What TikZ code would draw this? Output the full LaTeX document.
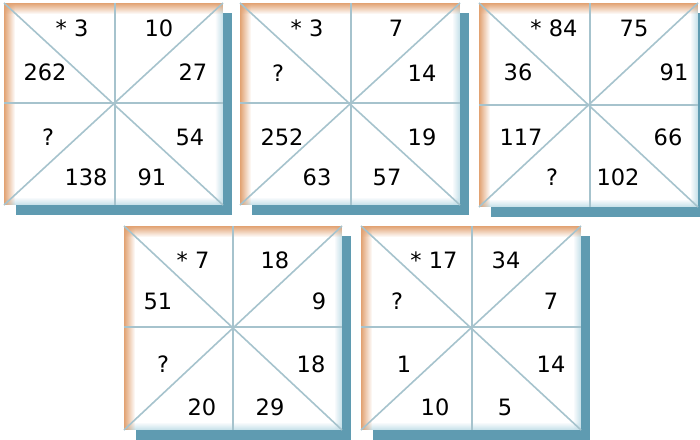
\documentclass[tikz,border=0pt]{standalone}
\usepackage{fontspec}
\setmainfont{DejaVu Sans}
\usetikzlibrary{fadings}
\definecolor{shadowc}{HTML}{5F9BB1}
\definecolor{edgeo}{HTML}{E2A272}
\definecolor{edgeb}{HTML}{C4DFE9}
\definecolor{gridc}{HTML}{A6C3CD}
\tikzfading[name=myfadeR, left color=transparent!0, right color=transparent!100]
\tikzfading[name=myfadeL, left color=transparent!100, right color=transparent!0]
\tikzfading[name=myfadeD, top color=transparent!0, bottom color=transparent!100]
\tikzfading[name=myfadeU, top color=transparent!100, bottom color=transparent!0]
\tikzset{
  num/.style={font=\fontsize{22.5}{26}\selectfont, text=black, inner sep=0pt, anchor=center},
  gline/.style={draw=gridc, line width=1.6pt}
}
\newcommand\puzzlebox[6]{%
  \fill[shadowc] (#1+12,#2+10) rectangle (#3+9,#4+10);
  \fill[white] (#1,#2) rectangle (#3,#4);
  \fill[edgeb, path fading=myfadeL] (#3-8,#2) rectangle (#3,#4);
  \fill[edgeb, path fading=myfadeU] (#1,#4-8) rectangle (#3,#4);
  \fill[edgeo, path fading=myfadeR] (#1,#2) rectangle (#1+11,#4);
  \fill[edgeo, path fading=myfadeD] (#1,#2) rectangle (#3,#2+11);
  \draw[gline] (#1,#2) -- (#3,#4);
  \draw[gline] (#3,#2) -- (#1,#4);
  \draw[gline] (#5,#2) -- (#5,#4);
  \draw[gline] (#1,#6) -- (#3,#6);
}
\begin{document}
\begin{tikzpicture}[x=1pt,y=-1pt]
\useasboundingbox (0,0) rectangle (700,439);
% square 1
\puzzlebox{4}{3}{223}{205}{115}{103}
\node[num] (a1) at (72,28) {* 3};
\node[num] (a2) at (159,28) {10};
\node[num] (a3) at (45,72) {262};
\node[num] (a4) at (193,72) {27};
\node[num] (a5) at (48,137) {?};
\node[num] (a6) at (190,137) {54};
\node[num] (a7) at (86,177) {138};
\node[num] (a8) at (152,177) {91};
% square 2
\puzzlebox{240}{3}{460}{205}{351}{103}
\node[num] (b1) at (307,28) {* 3};
\node[num] (b2) at (396,28) {7};
\node[num] (b3) at (278,73) {?};
\node[num] (b4) at (422,73) {14};
\node[num] (b5) at (282,137) {252};
\node[num] (b6) at (422,137) {19};
\node[num] (b7) at (317,177) {63};
\node[num] (b8) at (387,177) {57};
% square 3
\puzzlebox{479}{3}{698}{207}{590}{105}
\node[num] (c1) at (554,28) {* 84};
\node[num] (c2) at (634,28) {75};
\node[num] (c3) at (518,72) {36};
\node[num] (c4) at (674,72) {91};
\node[num] (c5) at (521,137) {117};
\node[num] (c6) at (668,137) {66};
\node[num] (c7) at (552,177) {?};
\node[num] (c8) at (618,177) {102};
% square 4
\puzzlebox{124}{226}{342}{430}{233}{327}
\node[num] (d1) at (193,260) {* 7};
\node[num] (d2) at (275,260) {18};
\node[num] (d3) at (158,301) {51};
\node[num] (d4) at (319,301) {9};
\node[num] (d5) at (163,364) {?};
\node[num] (d6) at (311,364) {18};
\node[num] (d7) at (202,407) {20};
\node[num] (d8) at (270,407) {29};
% square 5
\puzzlebox{361}{226}{581}{430}{472}{327}
\node[num] (e1) at (434,260) {* 17};
\node[num] (e2) at (506,260) {34};
\node[num] (e3) at (397,301) {?};
\node[num] (e4) at (551,301) {7};
\node[num] (e5) at (404,364) {1};
\node[num] (e6) at (551,364) {14};
\node[num] (e7) at (435,407) {10};
\node[num] (e8) at (505,407) {5};
\end{tikzpicture}
\end{document}
